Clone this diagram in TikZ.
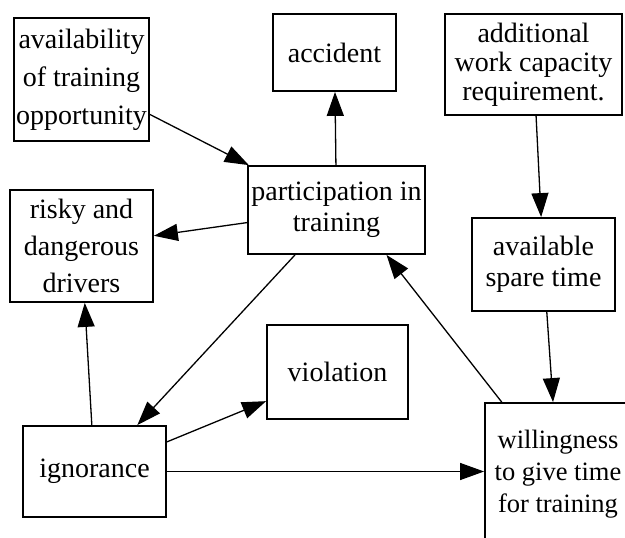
\documentclass[tikz,border=0pt]{standalone}
\usepackage{fontspec}
\setmainfont{Liberation Serif}
\usetikzlibrary{arrows.meta}
\begin{document}
\begin{tikzpicture}[x=1pt,y=-1pt,
  factor/.style={draw,line width=1.8pt,inner sep=0pt,align=center,font=\fontsize{28}{31}\selectfont},
  link/.style={-{Triangle[length=24pt,width=17pt]},line width=1.3pt}]
\clip (0,0) rectangle (625,538);
% boxes
\node[factor,minimum width=135,minimum height=123,font=\fontsize{28}{38}\selectfont] (avail) at (81.5,79.5) {availability\\of training\\opportunity};
\node[factor,minimum width=123,minimum height=77] (accid) at (334.5,52.5) {accident};
\node[factor,minimum width=177,minimum height=101,font=\fontsize{28}{29}\selectfont] (addit) at (533.5,64.5) {additional\\work capacity\\requirement.};
\node[factor,minimum width=177,minimum height=88] (partic) at (336.5,210) {participation in\\training};
\node[factor,minimum width=143,minimum height=112,font=\fontsize{28}{37}\selectfont] (risky) at (81.5,246) {risky and\\dangerous\\drivers};
\node[factor,minimum width=143,minimum height=93] (spare) at (543.5,264.5) {available\\spare time};
\node[factor,minimum width=141,minimum height=94] (violat) at (337.5,372) {violation};
\node[factor,minimum width=143,minimum height=91] (ignor) at (94.5,471.5) {ignorance};
\node[factor,minimum width=146,minimum height=142,font=\fontsize{26.5}{32}\selectfont] (willing) at (558,474) {willingness\\to give time\\for training};
% links
\draw[link] (avail) -- (partic);
\draw[link] (partic) -- (accid);
\draw[link] (partic) -- (risky);
\draw[link] (partic) -- (ignor);
\draw[link] (ignor) -- (risky);
\draw[link] (ignor) -- (violat);
\draw[link] (ignor.east) -- (ignor.east -| willing.west);
\draw[link] (addit) -- (spare);
\draw[link] (spare) -- (willing);
\draw[link] (willing) -- ([xshift=50pt]partic.south);
\end{tikzpicture}
\end{document}
